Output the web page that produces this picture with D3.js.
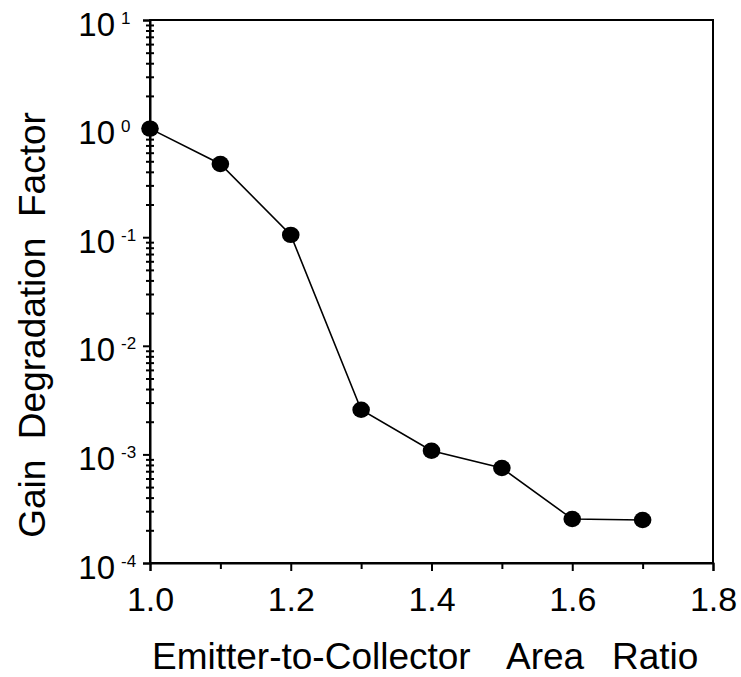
<!DOCTYPE html>
<html>
<head>
<meta charset="utf-8">
<script src="https://cdn.jsdelivr.net/npm/d3@7"></script>
<style>
  html, body { margin: 0; padding: 0; background: #fff; }
  svg { display: block; }
  text { font-family: "Liberation Sans", Arial, Helvetica, sans-serif; fill: #000; }
</style>
</head>
<body>
<div id="chart"></div>
<script>
// Data
const areaRatio = [1.0, 1.1, 1.2, 1.3, 1.4, 1.5, 1.6, 1.7];
const gainFactor = [1.0, 0.472, 0.105, 0.00258, 0.00108, 0.00075, 0.000254, 0.000249];
const xTicks = [1.0, 1.2, 1.4, 1.6, 1.8];
const xMinorTicks = [1.1, 1.3, 1.5, 1.7];
const yExponents = [1, 0, -1, -2, -3, -4];
const xLabelWords = ['Emitter-to-Collector', 'Area', 'Ratio'];
const yLabel = 'Gain  Degradation  Factor';

const width = 741, height = 677;
const plot = { left: 150, right: 713, top: 20, bottom: 563 };

const svg = d3.select('#chart').append('svg')
    .attr('width', width)
    .attr('height', height);

const x = d3.scaleLinear().domain([1.0, 1.8]).range([plot.left, plot.right]);
const y = d3.scaleLog().domain([1e-4, 10]).range([plot.bottom, plot.top]);

// minor log ticks 2..9 per decade
const yMinor = [];
for (let e = -4; e < 1; e++) {
    for (let m = 2; m <= 9; m++) yMinor.push(m * Math.pow(10, e));
}

// x axis
const xAxisG = svg.append('g')
    .attr('transform', `translate(0,${plot.bottom})`)
    .call(d3.axisBottom(x).tickValues(xTicks).tickSize(8).tickPadding(16)
        .tickFormat(d3.format('.1f')));
svg.append('g')
    .attr('transform', `translate(0,${plot.bottom})`)
    .call(d3.axisBottom(x).tickValues(xMinorTicks).tickSize(6).tickFormat(''))
    .select('.domain').remove();
xAxisG.selectAll('text').attr('font-size', 34).attr('dy', '0.71em')
    .style('font-family', '"Liberation Sans", Arial, sans-serif');

// y axis majors
const yAxisG = svg.append('g')
    .attr('transform', `translate(${plot.left},0)`)
    .call(d3.axisLeft(y).tickValues(yExponents.map(e => Math.pow(10, e)))
        .tickSize(7).tickFormat(''));
// y axis minors, crossing the axis line
svg.append('g')
    .attr('transform', `translate(${plot.left + 4},0)`)
    .call(d3.axisLeft(y).tickValues(yMinor).tickSize(8).tickFormat(''))
    .select('.domain').remove();

yAxisG.selectAll('.tick').each(function(d) {
    const g = d3.select(this);
    const exp = Math.round(Math.log10(d));
    g.append('text')
        .attr('x', -35)
        .attr('y', 15)
        .attr('text-anchor', 'end')
        .attr('font-size', 33)
        .text('10');
    g.append('text')
        .attr('x', -29)
        .attr('y', 3)
        .attr('text-anchor', 'start')
        .attr('font-size', 17)
        .text(String(exp));
});

svg.selectAll('.domain, .tick line')
    .attr('stroke', '#000')
    .attr('stroke-width', 2);

// frame
svg.append('rect')
    .attr('x', x(1.0))
    .attr('y', y(10))
    .attr('width', x(1.8) - x(1.0))
    .attr('height', y(1e-4) - y(10))
    .attr('fill', 'none')
    .attr('stroke', '#000')
    .attr('stroke-width', 2);

// series
const points = areaRatio.map((r, i) => ({ r, v: gainFactor[i] }));
svg.append('path')
    .datum(points)
    .attr('fill', 'none')
    .attr('stroke', '#000')
    .attr('stroke-width', 1.6)
    .attr('d', d3.line().x(d => x(d.r)).y(d => y(d.v)));

svg.selectAll('.dot')
    .data(points)
    .enter().append('ellipse')
    .attr('class', 'dot')
    .attr('cx', d => x(d.r))
    .attr('cy', d => y(d.v))
    .attr('rx', 8.8)
    .attr('ry', 8.2)
    .attr('fill', '#000');

// axis titles (words placed with the wide gaps of the original)
const xLabelStarts = [152, 506, 612];
svg.selectAll('.xlabel')
    .data(xLabelWords)
    .enter().append('text')
    .attr('class', 'xlabel')
    .attr('x', (d, i) => xLabelStarts[i])
    .attr('y', 669)
    .attr('font-size', 37)
    .text(d => d);

svg.append('text')
    .attr('transform', 'translate(45,325) rotate(-90)')
    .attr('text-anchor', 'middle')
    .attr('font-size', 37)
    .style('white-space', 'pre')
    .text(yLabel);
</script>
</body>
</html>
